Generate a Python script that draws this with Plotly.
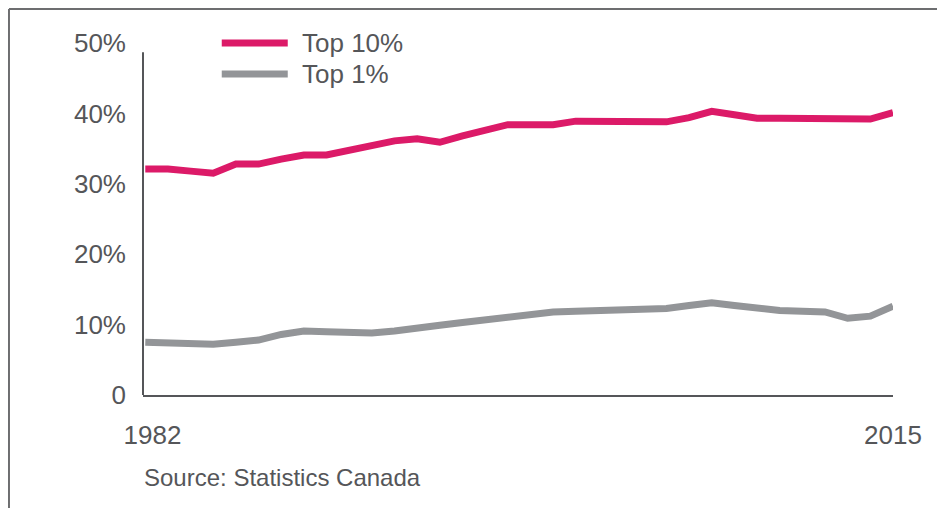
import plotly.graph_objects as go

# Dane (udział w dochodach, %)
years = list(range(1982, 2016))
top10 = [32.1, 32.1, 31.8, 31.5, 32.8, 32.8, 33.5, 34.1, 34.1, 34.8, 35.5, 36.1,
         36.4, 35.9, 36.8, 37.6, 38.4, 38.4, 38.4, 38.9, 38.9, 38.85, 38.8, 38.8,
         39.4, 40.3, 39.8, 39.3, 39.3, 39.3, 39.3, 39.2, 39.2, 40.1]
top1 = [7.5, 7.4, 7.3, 7.2, 7.5, 7.8, 8.6, 9.1, 9.0, 8.9, 8.8, 9.1,
        9.4, 9.9, 10.3, 10.7, 11.1, 11.5, 11.8, 11.9, 12.0, 12.1, 12.2, 12.3,
        12.7, 13.1, 12.7, 12.3, 12.0, 11.9, 11.8, 10.9, 11.2, 12.6]

y_ticks = [0, 10, 20, 30, 40, 50]
y_labels = ["0", "10%", "20%", "30%", "40%", "50%"]
x_ticks = [1982, 2015]
x_labels = ["\u00a0\u00a01982", "2015"]

PINK = "#DC1A68"
GRAY = "#939598"
TXT = "#555659"
FONT = "Liberation Sans, Arial, sans-serif"

fig = go.Figure()
fig.add_trace(go.Scatter(x=years, y=top10, mode="lines", name="Top 10%",
                         line=dict(color=PINK, width=7), showlegend=False))
fig.add_trace(go.Scatter(x=years, y=top1, mode="lines", name="Top 1%",
                         line=dict(color=GRAY, width=7), showlegend=False))

# legenda recznie (dluzsze probki linii)
for i, (name, col) in enumerate([("Top 10%", PINK), ("Top 1%", GRAY)]):
    yy = 1.0 - i * 0.088
    fig.add_shape(type="line", xref="paper", yref="paper", x0=0.105, x1=0.193,
                  y0=yy, y1=yy, line=dict(color=col, width=7))
    fig.add_annotation(text=name, xref="paper", yref="paper", x=0.209, y=yy,
                       xanchor="left", yanchor="middle", showarrow=False,
                       font=dict(size=26, color=TXT, family=FONT))

# os Y (krotsza niz zakres)
fig.add_shape(type="line", xref="paper", yref="y", x0=0, x1=0, y0=0, y1=48.7,
              line=dict(color=TXT, width=2))

# ramka (gora + lewo)
fig.add_shape(type="line", xref="paper", yref="paper", x0=-0.1787, x1=1.1,
              y0=1.0966, y1=1.0966, line=dict(color="#6d6e70", width=2))
fig.add_shape(type="line", xref="paper", yref="paper", x0=-0.1787, x1=-0.1787,
              y0=1.0966, y1=-0.4, line=dict(color="#6d6e70", width=2))

fig.add_annotation(text="Source: Statistics Canada", xref="paper", yref="paper",
                   x=-0.002, y=-0.235, xanchor="left", yanchor="middle", showarrow=False,
                   font=dict(size=24, color=TXT, family=FONT))

fig.update_layout(
    width=937, height=500,
    margin=dict(l=135, r=52, t=35, b=113),
    paper_bgcolor="white", plot_bgcolor="white",
    font=dict(family=FONT, color=TXT, size=26),
    xaxis=dict(range=[1981.9, 2015], tickvals=x_ticks, ticktext=x_labels,
               showgrid=False, zeroline=False,
               showline=True, linecolor=TXT, linewidth=2, ticks="",
               ticklabelstandoff=16, tickfont=dict(size=26, color=TXT)),
    yaxis=dict(range=[0, 50], tickvals=y_ticks, ticktext=y_labels, showgrid=False,
               zeroline=False, showline=False, ticks="", ticklabelstandoff=16,
               tickfont=dict(size=26, color=TXT)),
)

fig.write_html("out.html")
